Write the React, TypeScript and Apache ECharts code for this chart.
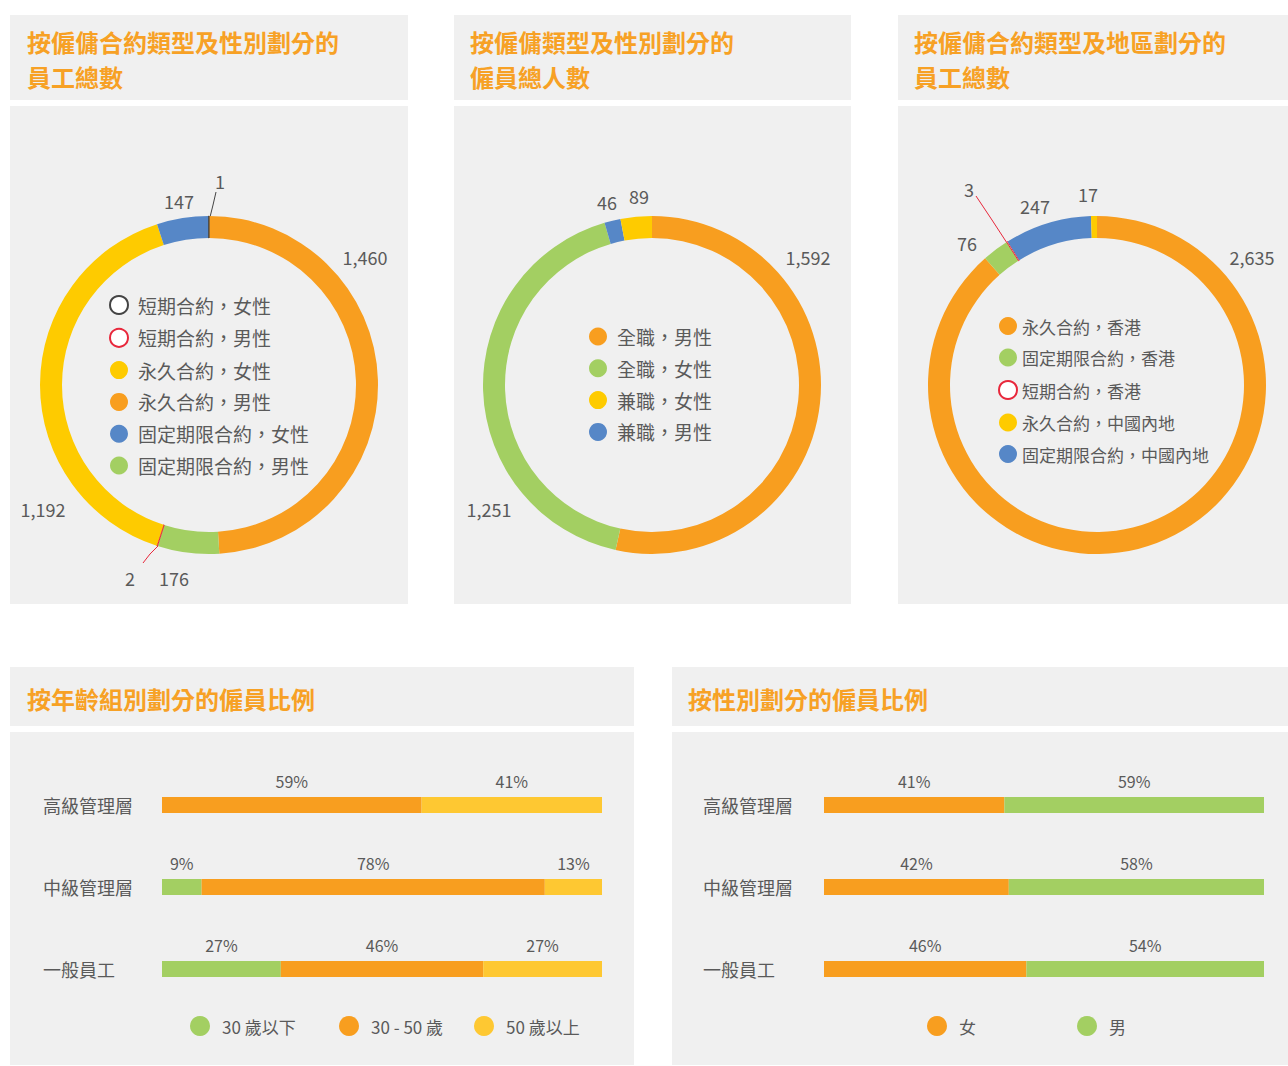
import React, { useEffect, useRef } from 'react';
import * as echarts from 'echarts';

// ---------- DATA ----------
// Chart 1: employees by contract type and gender (clockwise from 12 o'clock)
const contractGenderNames = ['永久合約，男性', '固定期限合約，男性', '短期合約，男性', '永久合約，女性', '固定期限合約，女性', '短期合約，女性'];
const contractGenderValues = [1460, 176, 2, 1192, 147, 1];
const contractGenderLegend = ['短期合約，女性', '短期合約，男性', '永久合約，女性', '永久合約，男性', '固定期限合約，女性', '固定期限合約，男性'];

// Chart 2: employees by employment type and gender
const employmentNames = ['全職，男性', '全職，女性', '兼職，男性', '兼職，女性'];
const employmentValues = [1592, 1251, 46, 89];
const employmentLegend = ['全職，男性', '全職，女性', '兼職，女性', '兼職，男性'];

// Chart 3: employees by contract type and region
const regionNames = ['永久合約，香港', '固定期限合約，香港', '短期合約，香港', '固定期限合約，中國內地', '永久合約，中國內地'];
const regionValues = [2635, 76, 3, 247, 17];
const regionLegend = ['永久合約，香港', '固定期限合約，香港', '短期合約，香港', '永久合約，中國內地', '固定期限合約，中國內地'];

// Bar charts
const levels = ['高級管理層', '中級管理層', '一般員工'];
const ageGroups = ['30 歲以下', '30 - 50 歲', '50 歲以上'];
const ageUnder30 = [0, 9, 27];
const age30to50 = [59, 78, 46];
const ageOver50 = [41, 13, 27];
const genders = ['女', '男'];
const femaleShare = [41, 42, 46];
const maleShare = [59, 58, 54];

const titleLines = [
  ['按僱傭合約類型及性別劃分的', '員工總數'],
  ['按僱傭類型及性別劃分的', '僱員總人數'],
  ['按僱傭合約類型及地區劃分的', '員工總數'],
  ['按年齡組別劃分的僱員比例'],
  ['按性別劃分的僱員比例'],
];

// ---------- STYLE / LAYOUT ----------
const FONT = '"Noto Sans CJK TC", "Noto Sans", sans-serif';
const TEXT = '#5a5a5a';
const ORANGE = '#f89e1f';
const YELLOW = '#fecb00';
const BLUE = '#5687c7';
const GREEN = '#a3cf62';
const BAR_YELLOW = '#fec832';
const RED = '#e8283c';
const DARK = '#444444';
const PANEL = '#f0f0f0';
const TITLE = '#f7a125';

const colorOf: Record<string, { fill: string; border?: string }> = {
  '永久合約，男性': { fill: ORANGE },
  '固定期限合約，男性': { fill: GREEN },
  '短期合約，男性': { fill: '#ffffff', border: RED },
  '永久合約，女性': { fill: YELLOW },
  '固定期限合約，女性': { fill: BLUE },
  '短期合約，女性': { fill: '#ffffff', border: DARK },
  '全職，男性': { fill: ORANGE },
  '全職，女性': { fill: GREEN },
  '兼職，男性': { fill: BLUE },
  '兼職，女性': { fill: YELLOW },
  '永久合約，香港': { fill: ORANGE },
  '固定期限合約，香港': { fill: GREEN },
  '短期合約，香港': { fill: '#ffffff', border: RED },
  '固定期限合約，中國內地': { fill: BLUE },
  '永久合約，中國內地': { fill: YELLOW },
};

// label anchor positions (layout) per pie, and leader lines for tiny slices
const pieLabelPos = [
  [[365, 257], [174, 578], [130, 578], [43, 509], [179, 201], [220, 181]],
  [[808, 257], [489, 509], [607, 202], [639, 196]],
  [[1252, 257], [967, 243], [969, 189], [1035, 206], [1088, 194]],
];
const pieLeaders: Record<string, number[][]> = {
  '0-2': [[158, 546], [150, 554], [143, 563]],
  '0-5': [[210, 217], [213, 205], [216, 192]],
  '2-2': [[1007, 243], [992, 220], [976, 196]],
};

const panels = [
  [10, 15, 398, 85], [10, 106, 398, 498],
  [454, 15, 397, 85], [454, 106, 397, 498],
  [898, 15, 390, 85], [898, 106, 390, 498],
  [10, 667, 624, 59], [10, 732, 624, 333],
  [672, 667, 616, 59], [672, 732, 616, 333],
];
const titlePos = [[27, 41], [470, 41], [914, 41], [27, 698], [688, 698]];
const TITLE_LINE_GAP = 35;

function pieSeries(idx: number, names: string[], values: number[], center: number[]) {
  return {
    type: 'pie',
    center,
    radius: [147, 169],
    startAngle: 90,
    clockwise: true,
    avoidLabelOverlap: false,
    silent: true,
    label: {
      show: true,
      formatter: (p: any) => Number(p.value).toLocaleString('en-US'),
      color: TEXT,
      fontSize: 18,
      fontFamily: FONT,
    },
    labelLine: { show: false },
    labelLayout: (params: any) => {
      const pos = pieLabelPos[idx][params.dataIndex];
      const lead = pieLeaders[idx + '-' + params.dataIndex];
      const res: any = { x: pos[0], y: pos[1], align: 'center', verticalAlign: 'middle' };
      if (lead) res.labelLinePoints = lead;
      return res;
    },
    data: names.map((n, i) => {
      const c = colorOf[n];
      const lead = pieLeaders[idx + '-' + i];
      return {
        name: n,
        value: values[i],
        itemStyle: c.border
          ? { color: c.fill, borderColor: c.border, borderWidth: 1 }
          : { color: c.fill, borderWidth: 0 },
        labelLine: lead
          ? { show: true, lineStyle: { color: c.border === RED ? RED : DARK, width: 1 } }
          : { show: false },
      };
    }),
  };
}

function pieLegend(data: string[], left: number, top: number, size: number, fontSize: number, gap: number, textPad: number) {
  return {
    orient: 'vertical',
    left,
    top,
    padding: 0,
    data,
    icon: 'circle',
    itemWidth: size,
    itemHeight: size,
    itemGap: gap,
    selectedMode: false,
    textStyle: { color: TEXT, fontSize, fontFamily: FONT, lineHeight: size, padding: [0, 0, 0, textPad] },
  };
}

const bottomLegendPos: Record<string, number> = {
  '30 歲以下': 190,
  '30 - 50 歲': 339,
  '50 歲以上': 474,
  '女': 927,
  '男': 1077,
};

function barLegend(name: string) {
  return {
    orient: 'horizontal',
    left: bottomLegendPos[name],
    top: 1016,
    padding: 0,
    data: [name],
    icon: 'circle',
    itemWidth: 20,
    itemHeight: 20,
    selectedMode: false,
    textStyle: { color: TEXT, fontSize: 17, fontFamily: FONT, lineHeight: 20, padding: [0, 0, 0, 7] },
  };
}

function barSeries(name: string, values: number[], color: string, gridIdx: number) {
  return {
    type: 'bar',
    name,
    xAxisIndex: gridIdx,
    yAxisIndex: gridIdx,
    stack: 's' + gridIdx,
    barWidth: 16,
    silent: true,
    itemStyle: { color },
    label: {
      show: true,
      position: 'top',
      distance: 8,
      color: TEXT,
      fontSize: 16,
      fontFamily: FONT,
      formatter: (p: any) => (p.value > 0 ? p.value + '%' : ''),
    },
    data: values,
  };
}

function yAxis(gridIndex: number, margin: number) {
  return {
    type: 'category',
    gridIndex,
    data: levels,
    inverse: true,
    axisLine: { show: false },
    axisTick: { show: false },
    splitLine: { show: false },
    axisLabel: { align: 'left', margin, color: TEXT, fontSize: 18, fontFamily: FONT },
  };
}

function xAxis(gridIndex: number) {
  return { type: 'value', gridIndex, min: 0, max: 100, show: false };
}

export default function App() {
  const ref = useRef<HTMLDivElement>(null);
  useEffect(() => {
    if (!ref.current) return;
    const chart = echarts.init(ref.current, undefined, { renderer: 'svg' });
    const graphicEls: any[] = [];
    panels.forEach((p) => {
      graphicEls.push({ type: 'rect', z: -10, shape: { x: p[0], y: p[1], width: p[2], height: p[3] }, style: { fill: PANEL } });
    });
    titleLines.forEach((lines, i) => {
      lines.forEach((t, j) => {
        graphicEls.push({
          type: 'text',
          z: 10,
          x: titlePos[i][0],
          y: titlePos[i][1] + j * TITLE_LINE_GAP,
          style: {
            text: t,
            fill: TITLE,
            fontSize: 24,
            fontWeight: 'bold',
            fontFamily: FONT,
            verticalAlign: 'middle',
            align: 'left',
          },
        });
      });
    });

    chart.setOption({
      animation: false,
      backgroundColor: 'transparent',
      graphic: { elements: graphicEls },
      legend: [
        pieLegend(contractGenderLegend, 109, 295, 18, 19, 12.8, 5),
        pieLegend(employmentLegend, 589, 327, 18, 19, 12.8, 5),
        pieLegend(regionLegend, 998, 317, 18, 17, 13.5, 0),
        ...ageGroups.map(barLegend),
        ...genders.map(barLegend),
      ],
      grid: [
        { left: 162, top: 764, width: 440, height: 246 },
        { left: 824, top: 764, width: 440, height: 246 },
      ],
      xAxis: [xAxis(0), xAxis(1)],
      yAxis: [yAxis(0, 119), yAxis(1, 121)],
      series: [
        pieSeries(0, contractGenderNames, contractGenderValues, [209, 385]),
        pieSeries(1, employmentNames, employmentValues, [652, 385]),
        pieSeries(2, regionNames, regionValues, [1097, 385]),
        barSeries(ageGroups[0], ageUnder30, GREEN, 0),
        barSeries(ageGroups[1], age30to50, ORANGE, 0),
        barSeries(ageGroups[2], ageOver50, BAR_YELLOW, 0),
        barSeries(genders[0], femaleShare, ORANGE, 1),
        barSeries(genders[1], maleShare, GREEN, 1),
      ],
    });
    return () => chart.dispose();
  }, []);
  return (
    <div
      ref={ref}
      style={{ position: 'fixed', left: 0, top: 0, width: 1288, height: 1066, background: '#ffffff' }}
    />
  );
}
